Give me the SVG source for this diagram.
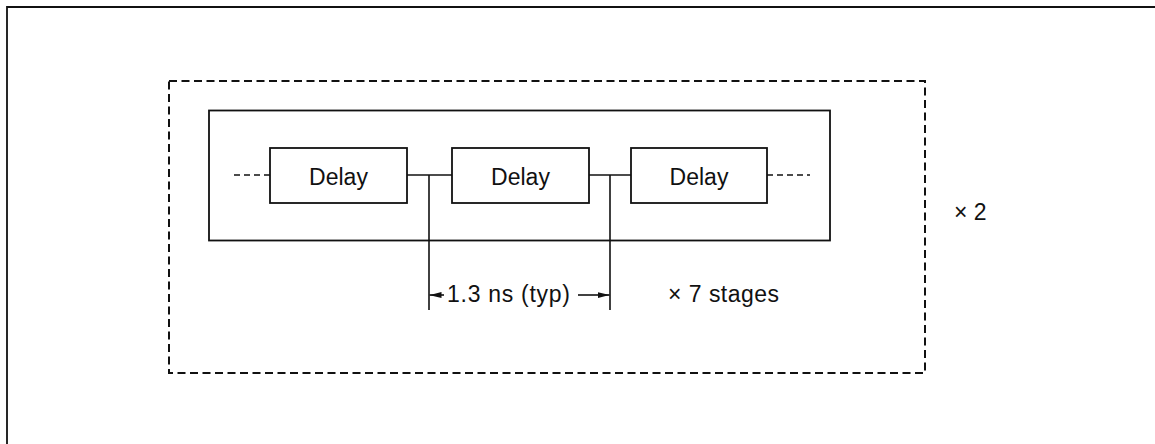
<svg xmlns="http://www.w3.org/2000/svg" width="1155" height="444" viewBox="0 0 1155 444">
  <style>
    .frame { fill: none; stroke: #111; stroke-width: 1.8; }
    .dash { fill: none; stroke: #111; stroke-width: 2; stroke-dasharray: 8 4.5; }
    .box { fill: #fff; stroke: #111; stroke-width: 1.8; }
    .wire { fill: none; stroke: #111; stroke-width: 1.6; }
    .stub { fill: none; stroke: #111; stroke-width: 1.6; stroke-dasharray: 6 4; }
    .lbl { font-family: "Liberation Sans", Arial, sans-serif; font-size: 23px; fill: #111; }
  </style>
  <defs>
    <marker id="ah" viewBox="0 0 12 6" refX="12" refY="3" markerWidth="12" markerHeight="6" markerUnits="userSpaceOnUse" orient="auto">
      <path d="M0,0 L12,3 L0,6 Z" fill="#111"/>
    </marker>
  </defs>
  <rect width="1155" height="444" fill="#fff"/>

  <!-- page border (top and left edges) -->
  <path class="frame" d="M7,444 V7 H1155"/>

  <!-- repeated block (x 2) -->
  <g id="outer-group">
    <rect class="dash" x="169" y="81" width="756" height="292"/>
    <text class="lbl" x="954" y="220">× 2</text>
  </g>

  <!-- delay chain (x 7 stages) -->
  <g id="stage-group">
    <rect class="frame" x="209" y="110.5" width="621" height="130"/>
    <text class="lbl" x="668" y="302" textLength="111" lengthAdjust="spacing">× 7 stages</text>
  </g>

  <g id="delay1">
    <rect class="box" x="270" y="148" width="137" height="55"/>
    <text class="lbl" x="338.5" y="185" text-anchor="middle">Delay</text>
  </g>
  <g id="delay2">
    <rect class="box" x="452" y="148" width="137" height="55"/>
    <text class="lbl" x="520.5" y="185" text-anchor="middle">Delay</text>
  </g>
  <g id="delay3">
    <rect class="box" x="631" y="148" width="136" height="55"/>
    <text class="lbl" x="699" y="185" text-anchor="middle">Delay</text>
  </g>

  <g id="connectors">
    <path class="stub" d="M234,175 H270"/>
    <path class="stub" d="M767,175 H810"/>
    <path class="wire" d="M407,175 H452"/>
    <path class="wire" d="M589,175 H631"/>
    <!-- taps for timing measurement -->
    <path class="wire" d="M429,175 V310"/>
    <path class="wire" d="M610,175 V310"/>
    <!-- dimension arrows -->
    <path class="wire" d="M444,295 H429.5" marker-end="url(#ah)"/>
    <path class="wire" d="M578,295 H609.5" marker-end="url(#ah)"/>
    <text class="lbl" x="447" y="302" textLength="123" lengthAdjust="spacing">1.3 ns (typ)</text>
  </g>
</svg>
